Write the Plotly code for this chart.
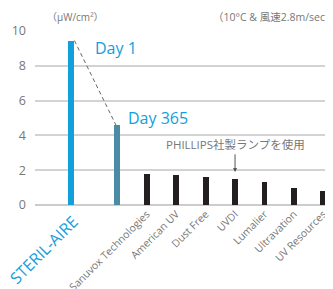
import plotly.graph_objects as go

# ---- data ----
brand = "STERIL-AIRE"
day1_value = 9.45
day365_value = 4.6
competitors = ["Sanuvox Technologies", "American UV", "Dust Free", "UVDI",
               "Lumalier", "Ultravation", "UV Resources"]
competitor_values = [1.8, 1.7, 1.6, 1.5, 1.3, 1.0, 0.8]
y_ticks = [0, 2, 4, 6, 8, 10]
unit_label = "（μW/cm²）"
cond_label = "（10°C & 風速2.8m/sec）"
note_label = "PHILLIPS社製ランプを使用"
note_target = "UVDI"

# ---- layout helpers ----
BLUE = "#12a0dc"
TEAL = "#4b8ba4"
BLACK = "#231f20"
GRAY = "#777777"
FONT = "Open Sans, Noto Sans CJK JP, sans-serif"

gap = 1.58  # spacing between brand bar and day-365 bar, in category units
x_brand = 0
x_day365 = x_brand + gap
x_comp = [x_day365 + 1 + i for i in range(len(competitors))]
bw = 0.2

fig = go.Figure()
fig.add_trace(go.Bar(x=[x_brand], y=[day1_value], width=bw, marker_color=BLUE,
                     marker_line_width=0, showlegend=False))
fig.add_trace(go.Bar(x=[x_day365], y=[day365_value], width=bw, marker_color=TEAL,
                     marker_line_width=0, showlegend=False))
fig.add_trace(go.Bar(x=x_comp, y=competitor_values, width=bw, marker_color=BLACK,
                     marker_line_width=0, showlegend=False))
fig.add_trace(go.Scatter(x=[x_brand + 0.12, x_day365 - 0.05], y=[day1_value, day365_value],
                         mode="lines", line=dict(color="#666666", width=1, dash="4px,3px"),
                         showlegend=False))

fig.update_layout(
    width=325, height=281,
    margin=dict(l=27, r=0, t=23, b=84),
    plot_bgcolor="white", paper_bgcolor="white",
    font=dict(family=FONT, color=GRAY, size=11),
    bargap=0,
    xaxis=dict(range=[-1.22, 8.91], tickvals=x_comp, ticktext=competitors,
               tickangle=-45, showgrid=False, zeroline=False, showline=False,
               automargin=False, ticklabeloverflow="allow",
               ticks="", tickfont=dict(size=10.5, color=GRAY)),
    yaxis=dict(range=[0, 10], tickvals=y_ticks, showgrid=True, gridcolor="#d3d3d3",
               gridwidth=1.5, zeroline=True, zerolinecolor="#cccccc", zerolinewidth=1.5,
               automargin=False,
               ticks="", tickfont=dict(size=12.5, color=GRAY), ticklabelstandoff=8),
)

# brand label, rotated like the tick labels but larger and blue
fig.add_annotation(x=x_brand - 0.93, y=-0.259, text=brand, showarrow=False,
                   textangle=-45, xanchor="center", yanchor="middle",
                   xref="x", yref="paper", font=dict(size=16, color=BLUE))
fig.add_annotation(x=x_brand + 0.75, y=9.0, text="Day 1", showarrow=False,
                   xanchor="left", yanchor="middle", xref="x", yref="y",
                   font=dict(size=16, color=BLUE))
fig.add_annotation(x=x_day365 + 0.3, y=5.0, text="Day 365", showarrow=False,
                   xanchor="left", yanchor="middle", xref="x", yref="y",
                   font=dict(size=16, color=BLUE))
fig.add_annotation(x=0.035, y=1.08, text=unit_label, showarrow=False,
                   xanchor="left", yanchor="middle", xref="paper", yref="paper",
                   font=dict(size=10, color=GRAY))
fig.add_annotation(x=0.59, y=1.08, text=cond_label, showarrow=False,
                   xanchor="left", yanchor="middle", xref="paper", yref="paper",
                   font=dict(size=10.5, color=GRAY))
ix = competitors.index(note_target)
fig.add_annotation(x=x_comp[ix], y=3.45, text=note_label, showarrow=False,
                   xanchor="center", yanchor="middle", xref="x", yref="y",
                   font=dict(size=11.5, color=GRAY))
fig.add_annotation(x=x_comp[ix], y=1.9, ax=x_comp[ix], ay=3.0, axref="x", ayref="y",
                   xref="x", yref="y", text="", showarrow=True, arrowhead=2,
                   arrowsize=0.8, arrowwidth=1, arrowcolor="#555555")

fig.write_html("out.html")
